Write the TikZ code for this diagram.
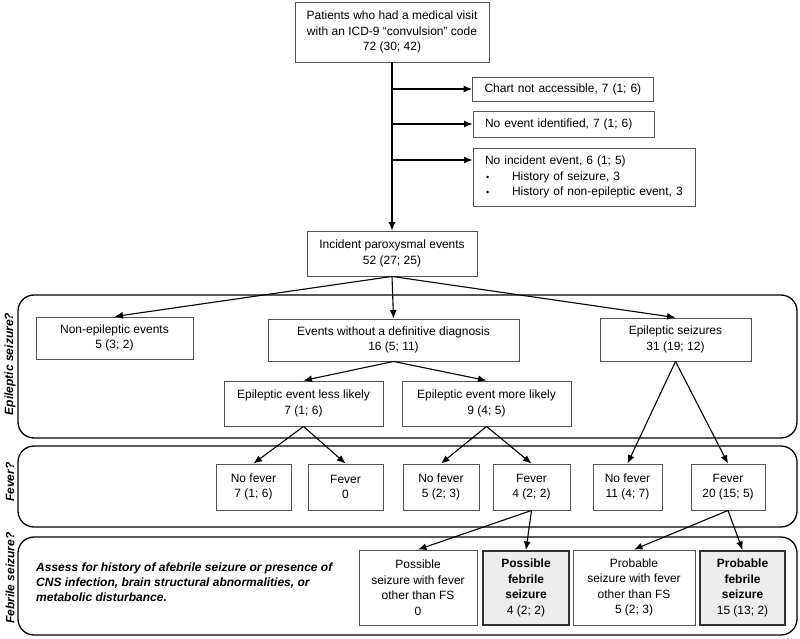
\documentclass[tikz,border=0pt]{standalone}
\usepackage{fontspec}
\setmainfont{Liberation Sans}
\usetikzlibrary{arrows.meta}
\definecolor{boxgray}{HTML}{555555}
\definecolor{fillgray}{HTML}{EDEDED}
\tikzset{
  box/.style={draw=boxgray, line width=0.9pt, fill=white, align=center, inner sep=2pt,
    font=\fontsize{12}{15.5}\selectfont},
  lbox/.style={box, align=left, inner xsep=12pt},
  gbox/.style={box, fill=fillgray, draw=black!80, line width=2pt},
  panel/.style={draw=black, line width=1.3pt, rounded corners=16pt},
  arr/.style={-{Latex[length=8.5pt,width=7pt]}, line width=1.1pt, black},
  side/.style={rotate=90, inner sep=0pt, font=\fontsize{12}{14}\selectfont\bfseries\itshape},
}
\begin{document}
\begin{tikzpicture}[x=1pt,y=-1pt]
\useasboundingbox (0,0) rectangle (800,639);

% panels
\draw[panel] (18,295) rectangle (797,438);
\draw[panel] (18,446) rectangle (797,527);
\draw[panel] (18,537) rectangle (797,635);

\node[side] (lab1) at (10,364) {Epileptic seizure?};
\node[side] (lab2) at (10,482) {Fever?};
\node[side] (lab3) at (10,578) {Febrile seizure?};

% top part
\node[box, minimum width=194pt, minimum height=60pt] (top) at (392,32)
  {Patients who had a medical visit\\with an ICD-9 “convulsion” code\\72 (30; 42)};
\node[lbox, text width=157pt, minimum height=24pt] (chart) at (563,89)
  {Chart not accessible, 7 (1; 6)};
\node[lbox, text width=157pt, minimum height=26pt] (noevent) at (563.5,124)
  {No event identified, 7 (1; 6)};
\node[box, align=left, inner xsep=12pt, text width=198pt, minimum height=58pt] (noinc) at (584,177)
  {No incident event, 6 (1; 5)\\
   \makebox[27pt][l]{\hspace{1pt}\fontsize{9}{9}\selectfont •}History of seizure, 3\\
   \makebox[27pt][l]{\hspace{1pt}\fontsize{9}{9}\selectfont •}History of non-epileptic event, 3};
\node[box, minimum width=170pt, minimum height=45pt] (incident) at (392,253.5)
  {Incident paroxysmal events\\52 (27; 25)};

\draw[arr] (top.south) -- (incident.north);
\draw[arr] (top.south |- chart.west) -- (chart.west);
\draw[arr] (top.south |- noevent.west) -- (noevent.west);
\draw[arr] (top.south |- 0,160) -- (noinc.west |- 0,160);

% epileptic seizure panel
\node[box, minimum width=157pt, minimum height=42pt] (nonep) at (114.5,338)
  {Non-epileptic events\\5 (3; 2)};
\node[box, minimum width=251pt, minimum height=42pt] (events) at (393.5,340)
  {Events without a definitive diagnosis\\16 (5; 11)};
\node[box, minimum width=151pt, minimum height=43pt] (epsz) at (675.5,339.5)
  {Epileptic seizures\\31 (19; 12)};
\node[box, minimum width=159pt, minimum height=45pt] (less) at (303.5,403.5)
  {Epileptic event less likely\\7 (1; 6)};
\node[box, minimum width=169pt, minimum height=45pt] (more) at (486.5,403.5)
  {Epileptic event more likely\\9 (4; 5)};

\draw[arr] (incident.south) -- (nonep.north);
\draw[arr] (incident.south) -- (events.north);
\draw[arr] (incident.south) -- (epsz.north);
\draw[arr] (events.south) -- (less.north);
\draw[arr] (events.south) -- (more.north);

% fever panel
\node[box, minimum width=75pt, minimum height=46pt] (nf1) at (253.5,487) {No fever\\7 (1; 6)};
\node[box, minimum width=75pt, minimum height=46pt] (f0) at (345.5,487) {Fever\\0};
\node[box, minimum width=76pt, minimum height=46pt] (nf5) at (441,487) {No fever\\5 (2; 3)};
\node[box, minimum width=77pt, minimum height=46pt] (f4) at (531.5,487) {Fever\\4 (2; 2)};
\node[box, minimum width=69pt, minimum height=46pt] (nf11) at (627.5,487) {No fever\\11 (4; 7)};
\node[box, minimum width=74pt, minimum height=46pt] (f20) at (728,487) {Fever\\20 (15; 5)};

\draw[arr] (less.south) -- (nf1.north);
\draw[arr] (less.south) -- (f0.north);
\draw[arr] (more.south) -- (nf5.north);
\draw[arr] (more.south) -- (f4.north);
\draw[arr] (epsz.south) -- (nf11.north);
\draw[arr] (epsz.south) -- (f20.north);

% febrile seizure panel
\node[anchor=west, inner sep=0pt, align=left, font=\fontsize{12}{15}\selectfont\bfseries\itshape] (assess) at (36,582)
  {Assess for history of afebrile seizure or presence of\\CNS infection, brain structural abnormalities, or\\metabolic disturbance.};
\node[box, minimum width=118pt, minimum height=75pt] (ps) at (418,587.5)
  {Possible\\seizure with fever\\other than FS\\0};
\node[gbox, minimum width=86pt, minimum height=74pt] (pf) at (526,588)
  {\textbf{Possible}\\\textbf{febrile}\\\textbf{seizure}\\4 (2; 2)};
\node[box, minimum width=122pt, minimum height=75pt] (prs) at (634,587.5)
  {Probable\\seizure with fever\\other than FS\\5 (2; 3)};
\node[gbox, minimum width=85pt, minimum height=74pt] (prf) at (742.5,588)
  {\textbf{Probable}\\\textbf{febrile}\\\textbf{seizure}\\15 (13; 2)};

\draw[arr] (f4.south) -- (ps.north);
\draw[arr] (f4.south) -- (pf.north);
\draw[arr] (f20.south) -- (prs.north);
\draw[arr] (f20.south) -- (prf.north);
\end{tikzpicture}
\end{document}
